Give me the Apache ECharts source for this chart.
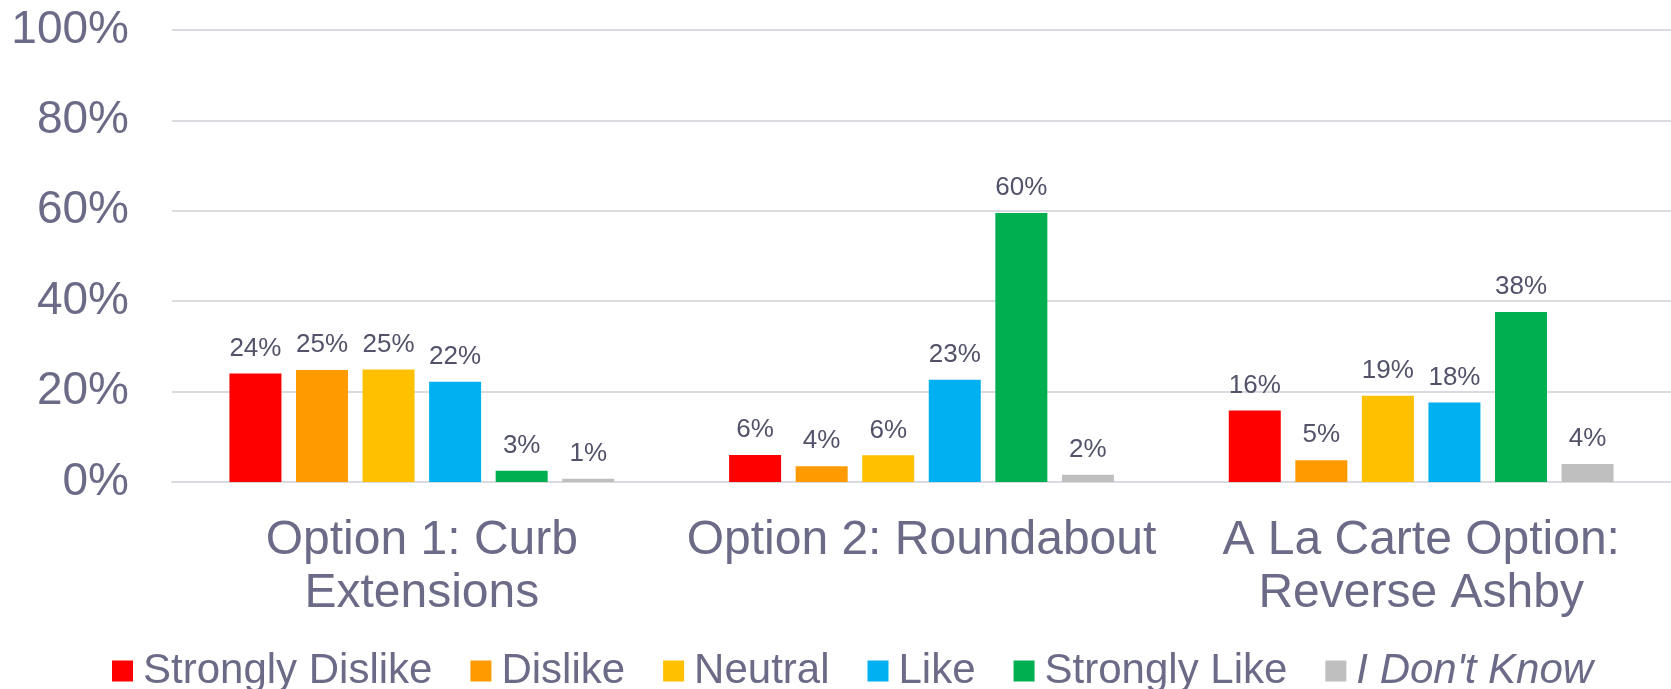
<!DOCTYPE html>
<html><head><meta charset="utf-8">
<script src="https://cdn.jsdelivr.net/npm/echarts@6/dist/echarts.min.js"></script>
<style>html,body{margin:0;padding:0;background:#fff}#c{width:1671px;height:689px}</style>
</head><body><div id="c"></div>
<script>
const categories = ['Option 1: Curb\nExtensions', 'Option 2: Roundabout', 'A La Carte Option:\nReverse Ashby'];
const seriesNames = ['Strongly Dislike', 'Dislike', 'Neutral', 'Like', 'Strongly Like', "I Don't Know"];
const stronglyDislike = [24.0, 6.0, 15.8];
const dislike = [24.8, 3.5, 4.8];
const neutral = [24.9, 5.9, 19.1];
const like = [22.2, 22.6, 17.6];
const stronglyLike = [2.5, 59.5, 37.6];
const dontKnow = [0.7, 1.6, 4.0];
const yTicks = [0, 20, 40, 60, 80, 100];
const colors = ['#FF0000', '#FF9A00', '#FFC000', '#00B0F0', '#00B050', '#BFBFBF'];

const allValues = [stronglyDislike, dislike, neutral, like, stronglyLike, dontKnow];
const FONT = '"Liberation Sans", Arial, sans-serif';
const axisColor = '#6B6B88';
const labelColor = '#52526A';
const gridColor = '#DADAE1';

const chart = echarts.init(document.getElementById('c'), null, {renderer: 'canvas'});
chart.setOption({
  animation: false,
  backgroundColor: '#ffffff',
  textStyle: {fontFamily: FONT},
  grid: {left: 172, right: 0, top: 30, bottom: 207, containLabel: false},
  legend: {
    left: 107,
    top: 645,
    itemWidth: 21,
    itemHeight: 21,
    itemGap: 38,
    icon: 'rect',
    textStyle: {fontFamily: FONT, fontSize: 42, color: axisColor, padding: [0, 0, 0, 5]},
    data: seriesNames.map((n, i) => i === 5 ? {name: n, textStyle: {fontStyle: 'italic'}} : {name: n})
  },
  xAxis: {
    type: 'category',
    data: categories,
    axisTick: {show: false},
    axisLine: {show: true, lineStyle: {color: gridColor, width: 2}},
    axisLabel: {fontFamily: FONT, fontSize: 48, lineHeight: 53, color: axisColor, margin: 32, align: 'center', interval: 0}
  },
  yAxis: {
    type: 'value',
    min: yTicks[0],
    max: yTicks[yTicks.length - 1],
    interval: yTicks[1] - yTicks[0],
    axisLine: {show: false},
    axisTick: {show: false},
    splitLine: {lineStyle: {color: gridColor, width: 2}},
    axisLabel: {fontFamily: FONT, fontSize: 46, color: axisColor, margin: 43, formatter: '{value}%'}
  },
  series: seriesNames.map((n, i) => ({
    name: n,
    type: 'bar',
    data: allValues[i],
    barWidth: 52,
    barGap: '28%',
    itemStyle: {color: colors[i]},
    label: {
      show: true,
      position: 'top',
      distance: 12,
      fontFamily: FONT,
      fontSize: 26,
      color: labelColor,
      formatter: p => Math.round(p.value) + '%'
    }
  }))
});
</script>
</body></html>
